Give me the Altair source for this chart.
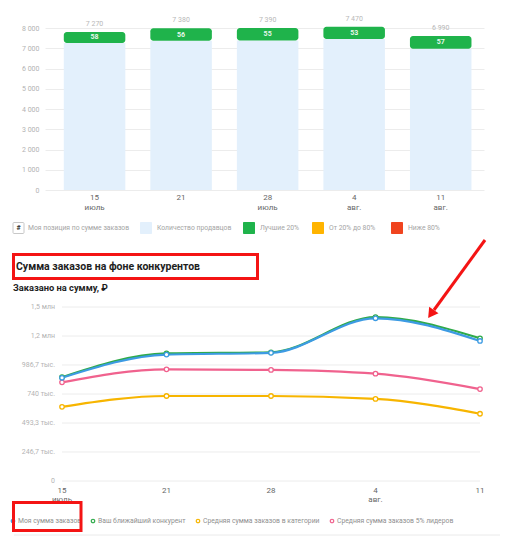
import altair as alt
import pandas as pd

# ---------------- data ----------------
weeks = ["15", "21", "28", "4", "11"]
top_labels = ["15\nиюль", "21", "28\nиюль", "4\nавг.", "11\nавг."]
sellers = [7270, 7380, 7390, 7470, 6990]
rank_top = [7814, 7997, 8010, 8076, 7616]
rank_text = ["58", "56", "55", "53", "57"]
seller_text = ["7 270", "7 380", "7 390", "7 470", "6 990"]
top_ticks = [0, 1000, 2000, 3000, 4000, 5000, 6000, 7000, 8000]

bottom_labels = ["15\nиюль", "21", "28", "4\nавг.", "11"]
my_sum = [878000, 1075000, 1090000, 1384000, 1191000]
competitor = [883000, 1085000, 1095000, 1394000, 1214000]
category_avg = [631000, 723000, 723000, 698000, 572000]
leaders_avg = [839000, 950000, 945000, 913000, 782000]
bottom_ticks = [0, 246667, 493333, 740000, 986667, 1233333, 1480000]
bottom_tick_labels = ["0", "246,7 тыс.", "493,3 тыс.", "740 тыс.", "986,7 тыс.", "1,2 млн", "1,5 млн"]

series_names = ["Моя сумма заказов", "Ваш ближайший конкурент",
                "Средняя сумма заказов в категории", "Средняя сумма заказов 5% лидеров"]
series_values = [my_sum, competitor, category_avg, leaders_avg]
series_colors = ["#3d9be3", "#2faa4a", "#f7b500", "#f0628e"]

top_legend = ["Количество продавцов", "Лучшие 20%", "От 20% до 80%", "Ниже 80%"]
top_legend_colors = ["#e3f0fc", "#1fb34b", "#ffb400", "#f0441f"]

W = 439
TOP_H = 182
BOT_H = 174
FONT = "Roboto"
RED = "#f41414"
NOFRAME = alt.ViewBackground(stroke="transparent", strokeWidth=0)

one = pd.DataFrame({"k": [0]})

# ---------------- top chart ----------------
top_df = pd.DataFrame({"week": weeks, "label": top_labels, "sellers": sellers,
                       "rank_top": rank_top, "rank": rank_text, "stxt": seller_text})
xs = alt.X("week:N", sort=weeks,
           scale=alt.Scale(type="band", paddingInner=0.289, paddingOuter=0.181, align=0.6),
           axis=None)
yscale_top = alt.Scale(domain=[0, 9000], nice=False, zero=True)
yaxis_top = alt.Axis(values=top_ticks, grid=True, gridColor="#ececec", domain=False, ticks=False,
                     labelExpr="replace(format(datum.value, ','), ',', ' ')",
                     labelColor="#b3b3b3", labelFontSize=7, labelPadding=6, title="")

tb = alt.Chart(top_df)
bars = tb.mark_bar(color="#e3f0fc").encode(
    x=xs, y=alt.Y("sellers:Q", scale=yscale_top, axis=yaxis_top))
rank_box = tb.mark_bar(color="#1fb34b", cornerRadius=3).encode(
    x=xs, y=alt.Y("sellers:Q", scale=yscale_top, axis=yaxis_top), y2="rank_top:Q")
rank_lbl = tb.transform_calculate(mid="(datum.sellers + datum.rank_top) / 2").mark_text(
    color="#e8f7ec", fontSize=7, fontWeight="bold", font=FONT).encode(
    x=xs, y=alt.Y("mid:Q", scale=yscale_top, axis=yaxis_top), text="rank:N")
above_lbl = tb.mark_text(color="#b8b8b8", fontSize=7, dy=-8, font=FONT).encode(
    x=xs, y=alt.Y("rank_top:Q", scale=yscale_top, axis=yaxis_top), text="stxt:N")
xlbl_top = tb.mark_text(lineBreak="\n", baseline="top", fontSize=8, lineHeight=10,
                        color="#666666", font=FONT).encode(
    x=xs, y=alt.value(186), text="label:N")

top_layers = [bars, rank_box, rank_lbl, above_lbl, xlbl_top]

LEG_Y = 220
top_layers.append(alt.Chart(one).mark_rect(fill="white", stroke="#c8c8c8", strokeWidth=1,
                                             cornerRadius=1).encode(
    x=alt.value(-32), x2=alt.value(-21), y=alt.value(LEG_Y - 5.5), y2=alt.value(LEG_Y + 5.5)))
top_layers.append(alt.Chart(one).mark_text(text="#", fontSize=7, fontWeight="bold",
                                             color="#333333", font=FONT).encode(
    x=alt.value(-26.5), y=alt.value(LEG_Y)))
top_layers.append(alt.Chart(one).mark_text(text="Моя позиция по сумме заказов", fontSize=6.8,
                                             align="left", color="#a5a5a5", font=FONT).encode(
    x=alt.value(-17), y=alt.value(LEG_Y)))
sq_x = [95, 198, 267, 346]
for lbl, col, sx in zip(top_legend, top_legend_colors, sq_x):
    top_layers.append(alt.Chart(one).mark_rect(fill=col, cornerRadius=1).encode(
        x=alt.value(sx), x2=alt.value(sx + 12), y=alt.value(LEG_Y - 6), y2=alt.value(LEG_Y + 6)))
    top_layers.append(alt.Chart(one).mark_text(text=lbl, fontSize=6.8, align="left",
                                                 color="#a5a5a5", font=FONT).encode(
        x=alt.value(sx + 17), y=alt.value(LEG_Y)))

top = alt.layer(*top_layers).properties(width=W, height=TOP_H, view=NOFRAME)

# ---------------- bottom chart ----------------
rows = []
for name, vals in zip(series_names, series_values):
    for w, lab, v in zip(weeks, bottom_labels, vals):
        rows.append({"series": name, "week": w, "label": lab, "value": v})
bot_df = pd.DataFrame(rows)

xb = alt.X("week:N", sort=weeks,
           scale=alt.Scale(type="point", padding=0.1005, align=0.81), axis=None)
yscale_b = alt.Scale(domain=[0, 1480000], nice=False, zero=True)

tick_df = pd.DataFrame({"v": bottom_ticks, "t": bottom_tick_labels})
grid_b = alt.Chart(tick_df).mark_rule(color="#ececec", strokeWidth=1).encode(
    y=alt.Y("v:Q", scale=yscale_b, axis=None), x=alt.value(17), x2=alt.value(435))
ylab_b = alt.Chart(tick_df).mark_text(align="right", fontSize=7, color="#b3b3b3", font=FONT).encode(
    y=alt.Y("v:Q", scale=yscale_b, axis=None), x=alt.value(10), text="t:N")

bot_layers = [grid_b, ylab_b]
draw_order = [2, 3, 1, 0]
for i in draw_order:
    sdf = bot_df[bot_df["series"] == series_names[i]]
    bot_layers.append(alt.Chart(sdf).mark_line(interpolate="monotone", strokeWidth=2.2,
                                               color=series_colors[i]).encode(
        x=xb, y=alt.Y("value:Q", scale=yscale_b, axis=None)))
for i in draw_order:
    sdf = bot_df[bot_df["series"] == series_names[i]]
    bot_layers.append(alt.Chart(sdf).mark_point(shape="circle", filled=True, fill="white",
                                                stroke=series_colors[i], strokeWidth=1.3, size=20,
                                                opacity=1).encode(
        x=xb, y=alt.Y("value:Q", scale=yscale_b, axis=None)))

xlbl_b = alt.Chart(bot_df[bot_df["series"] == series_names[0]]).mark_text(
    lineBreak="\n", baseline="top", fontSize=8, lineHeight=9, color="#666666", font=FONT).encode(
    x=xb, y=alt.value(180), text="label:N")
bot_layers.append(xlbl_b)

# legend
LY = 214
circ_x = [-32, 48, 153, 287]
for name, col, cx in zip(series_names, series_colors, circ_x):
    bot_layers.append(alt.Chart(one).mark_point(shape="circle", filled=True, fill="white",
                                                  stroke=col, strokeWidth=1.2, size=12,
                                                  opacity=1).encode(
        x=alt.value(cx), y=alt.value(LY)))
    bot_layers.append(alt.Chart(one).mark_text(text=name, fontSize=6.8, align="left",
                                                 color="#8f8f8f", font=FONT).encode(
        x=alt.value(cx + 5), y=alt.value(LY)))

# legend annotation box
bot_layers.append(alt.Chart(one).mark_rect(fill="transparent", stroke=RED, strokeWidth=3).encode(
    x=alt.value(-31.5), x2=alt.value(36), y=alt.value(195.5), y2=alt.value(223.5)))
# bottom separator line
bot_layers.append(alt.Chart(one).mark_rule(color="#eaeaea", strokeWidth=1).encode(
    x=alt.value(-31), x2=alt.value(455), y=alt.value(228)))

# title annotation box
bot_layers.append(alt.Chart(one).mark_rect(fill="transparent", stroke=RED, strokeWidth=3).encode(
    x=alt.value(-31.5), x2=alt.value(212.5), y=alt.value(-52.5), y2=alt.value(-28.5)))
bot_layers.append(alt.Chart(one).mark_text(text="Сумма заказов на фоне конкурентов",
                                             fontSize=10.5, fontWeight="bold", align="left",
                                             color="#1e1e1e", font=FONT).encode(
    x=alt.value(-29), y=alt.value(-40)))
bot_layers.append(alt.Chart(one).mark_text(text="Заказано на сумму, ₽",
                                             fontSize=9.3, fontWeight="bold", align="left",
                                             color="#1e1e1e", font=FONT).encode(
    x=alt.value(-32), y=alt.value(-19)))

# arrow
bot_layers.append(alt.Chart(one).mark_rule(color=RED, strokeWidth=3).encode(
    x=alt.value(440), x2=alt.value(389), y=alt.value(-67), y2=alt.value(3)))
bot_layers.append(alt.Chart(one).mark_point(shape="triangle-down", filled=True, color=RED,
                                              size=130, angle=35, opacity=1).encode(
    x=alt.value(386), y=alt.value(7)))

bottom = alt.layer(*bot_layers).properties(width=W, height=BOT_H, view=NOFRAME)

chart = alt.VConcatChart(vconcat=[top, bottom], spacing=117, bounds="flush", padding=0)
chart = chart.configure(font=FONT)

chart.save("out.html", embed_options={"renderer": "svg", "actions": False})
